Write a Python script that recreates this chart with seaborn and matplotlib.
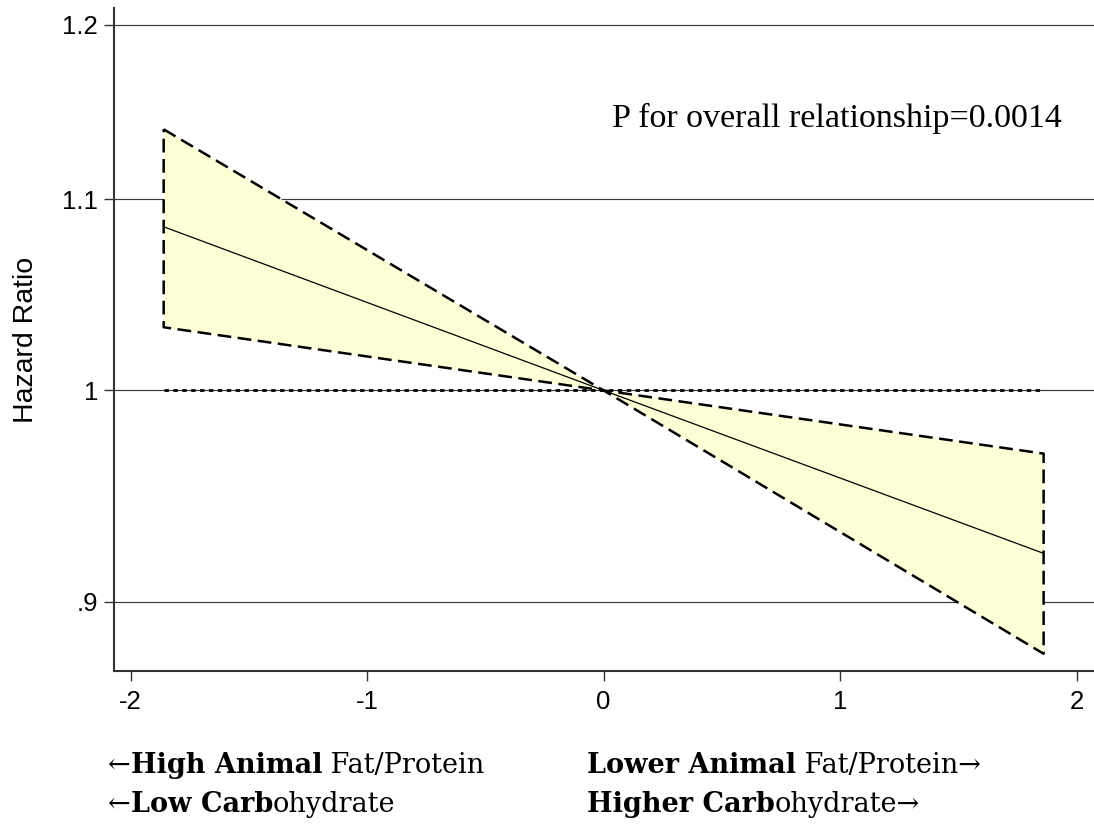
import numpy as np
import pandas as pd
import seaborn as sns
import matplotlib
matplotlib.use("Agg")
import matplotlib.pyplot as plt
from matplotlib.ticker import NullLocator, FixedLocator, FixedFormatter

# ---- data ----
x_pos = [-1.86, 0.0, 1.86]
hazard_ratio = [1.085, 1.0, 0.922]
ci_low = [1.032, 1.0, 0.877]
ci_high = [1.139, 1.0, 0.969]
ref_x = [-1.86, 1.86]
ref_y = [1.0, 1.0]

x_ticks = [-2, -1, 0, 1, 2]
x_ticklabels = ["-2", "-1", "0", "1", "2"]
y_ticks = [0.9, 1.0, 1.1, 1.2]
y_ticklabels = [".9", "1", "1.1", "1.2"]
y_label = "Hazard Ratio"
p_text = "P for overall relationship=0.0014"

left_lines = [
    [("\u2190", False), ("High Animal", True), (" Fat/Protein", False)],
    [("\u2190", False), ("Low Carb", True), ("ohydrate", False)],
]
right_lines = [
    [("Lower Animal", True), (" Fat/Protein\u2192", False)],
    [("Higher Carb", True), ("ohydrate\u2192", False)],
]

# ---- style ----
sns.set_theme(style="white")
sans = ["Liberation Sans", "DejaVu Sans"]
serif_p = ["Liberation Serif", "DejaVu Serif"]
serif_b = ["DejaVu Serif", "Liberation Serif"]
plt.rcParams["font.family"] = sans

W, H = 1094, 825
fig = plt.figure(figsize=(W / 100, H / 100), dpi=100)
ax = fig.add_axes([114 / W, 1 - 671 / H, (W - 114) / W, (671 - 8) / H])

df = pd.DataFrame({"x": x_pos, "hr": hazard_ratio, "lo": ci_low, "hi": ci_high})

# horizontal grid lines
for yv in y_ticks:
    ax.axhline(yv, color="#3a3a3a", lw=0.85, zorder=0.5)

# CI band
ax.fill_between(df["x"], df["lo"], df["hi"], color="#FEFED6", lw=0, zorder=1)

# CI outline (dashed polygon)
outline = pd.DataFrame({
    "x": list(df["x"]) + list(df["x"][::-1]) + [df["x"].iloc[0]],
    "y": list(df["hi"]) + list(df["lo"][::-1]) + [df["hi"].iloc[0]],
})
sns.lineplot(data=outline, x="x", y="y", sort=False, ax=ax, color="black",
             lw=1.8, linestyle=(0, (5.5, 2.6)), zorder=3, estimator=None)

# reference line at 1
ref = pd.DataFrame({"x": ref_x, "y": ref_y})
sns.lineplot(data=ref, x="x", y="y", ax=ax, color="black", lw=2.0,
             linestyle=(0, (1.6, 1.6)), zorder=2.5, estimator=None)

# fitted hazard ratio
sns.lineplot(data=df, x="x", y="hr", ax=ax, color="black", lw=0.9,
             zorder=4, estimator=None)

ax.set_yscale("log")
ax.set_xlim(-2.07, 2.073)
ax.set_ylim(0.8695, 1.210)
ax.yaxis.set_major_locator(FixedLocator(y_ticks))
ax.yaxis.set_major_formatter(FixedFormatter(y_ticklabels))
ax.yaxis.set_minor_locator(NullLocator())
ax.set_xticks(x_ticks)
ax.set_xticklabels(x_ticklabels)

ax.tick_params(axis="both", which="major", direction="out", length=7.5,
               width=1.0, color="#333333", labelsize=18.5, labelcolor="black",
               left=True, bottom=True)
ax.tick_params(axis="y", pad=4)
ax.tick_params(axis="x", pad=6)
for lab in ax.get_xticklabels() + ax.get_yticklabels():
    lab.set_family(sans)

for s in ["top", "right"]:
    ax.spines[s].set_visible(False)
for s in ["left", "bottom"]:
    ax.spines[s].set_color("#333333")
    ax.spines[s].set_linewidth(1.5)

ax.set_xlabel("")
ax.set_ylabel(y_label, fontsize=20.5, color="black")
ax.yaxis.set_label_coords(-0.077, 0.5)

# P-value annotation
fig.text(612 / W, 1 - 127 / H, p_text, family=serif_p, fontsize=24.5,
         va="baseline", ha="left", color="black")

# bottom direction labels (mixed bold / regular)
fig.canvas.draw()
renderer = fig.canvas.get_renderer()


def draw_line(pieces, x0_px, baseline_px):
    x = x0_px
    for txt, bold in pieces:
        t = fig.text(x / W, 1 - baseline_px / H, txt, family=serif_b,
                     fontsize=19.5, fontweight="bold" if bold else "normal",
                     va="baseline", ha="left", color="black")
        bb = t.get_window_extent(renderer)
        x = bb.x1


for i, line in enumerate(left_lines):
    draw_line(line, 108, 773 + 39 * i)
for i, line in enumerate(right_lines):
    draw_line(line, 587, 773 + 39 * i)

fig.savefig("out.png", dpi=100)
